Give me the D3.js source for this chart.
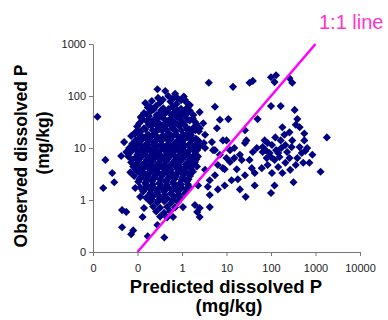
<!DOCTYPE html>
<html>
<head>
<meta charset="utf-8">
<script src="https://cdn.jsdelivr.net/npm/d3@7"></script>
<style>
  body { margin: 0; background: #fff; }
  svg { display: block; font-family: Arial, "Liberation Sans", sans-serif; }
</style>
</head>
<body>
<div id="chart"></div>
<script>
// tick values and the labels the original shows (it rounds 0.01 / 0.1 to "0")
const xTicks = [0.01, 0.1, 1, 10, 100, 1000, 10000];
const xTickLabels = ['0', '0', '1', '10', '100', '1000', '10000'];
const yTicks = [0.1, 1, 10, 100, 1000];
const yTickLabels = ['0', '1', '10', '100', '1000'];

// 1:1 reference line, from .. to
const oneToOne = [0.1, 1000];

// [predicted, observed] in mg/kg - scattered points
const sparsePoints = [
    [0.0126, 40], [0.019, 5.9], [0.017, 1.7], [0.027, 3.3], [0.030, 2.2], [0.050, 13], [0.043, 7],
    [0.045, 0.64], [0.056, 0.59], [0.045, 0.30], [0.072, 0.22], [0.080, 0.26], [0.13, 0.47], [0.14, 0.70],
    [0.28, 0.33], [0.17, 0.20], [0.40, 0.19], [0.089, 1.7], [0.115, 1.15], [0.056, 8.4], [0.28, 135],
    [0.15, 73], [0.19, 62], [0.12, 40], [0.089, 19],
    [4.0, 180], [14, 150], [39, 195], [33, 180], [100, 230], [130, 250], [120, 185], [260, 220], [300, 180],
    [5.5, 62], [11, 36], [50, 36], [1.8, 43], [1.95, 32], [3.0, 30], [6.1, 24], [4.7, 13], [8.3, 14],
    [26, 22], [28, 14], [48, 10], [65, 8.4], [15, 10], [3.3, 10], [5, 9.1], [1.3, 19],
    [100, 64], [165, 64], [340, 54], [390, 36], [180, 25], [440, 25], [360, 28], [1800, 16], [200, 18],
    [300, 14], [560, 14], [650, 10], [850, 7.4], [105, 11.4], [130, 9.1], [170, 10], [230, 8.4], [490, 8],
    [100, 6.7], [155, 6.7], [260, 6.4], [120, 5.9], [390, 6.4], [180, 3.3], [105, 3.3], [1300, 3.5],
    [120, 1.9], [320, 2.2], [100, 1.36], [27, 1.15],
    [9.1, 3.9], [17, 3.9], [13, 2.4], [37, 4.1], [43, 3.3], [65, 10.4], [39, 8.4], [22, 5.9], [15, 6.4],
    [10, 6.4], [26, 12.5], [10, 14], [6.4, 1.6], [3.8, 1.8], [4.2, 1.25], [2.3, 1.9], [2.5, 0.70],
    [2.2, 0.59], [2.5, 0.47], [4.2, 0.73], [1.05, 0.73], [0.63, 0.47], [1.95, 0.80], [8.3, 4.1], [18, 2.5],
    [12, 5.4], [62, 4.1], [80, 6.4],
    [76, 9.1], [84, 12.5], [93, 8], [145, 8], [210, 11.4], [290, 10.4], [440, 10.4], [590, 8.8], [360, 4.7],
    [210, 5.2], [145, 4.3], [84, 4.7], [530, 5.2], [730, 5.2], [270, 3.8], [72, 14], [165, 14], [125, 16],
    [260, 20], [560, 19],
    [2.5, 24], [3.3, 18], [2.3, 14], [7.1, 35], [1.5, 67], [1.17, 84], [2.5, 49], [5.5, 9.1], [7.1, 7.4],
    [12, 9.1], [20, 7.4], [33, 5.9], [6.4, 4.7], [26, 3.0], [43, 1.9], [20, 1.6], [9.1, 1.9], [5.5, 3.0],
    [3.3, 3.8], [4.2, 2.4]
];

// [predicted, observed] - the dense cloud around 0.1-2 predicted
const clusterPoints = [
    [0.42, 125], [0.70, 110],
    [0.29, 92], [0.49, 100], [0.80, 90], [1.1, 98],
    [0.21, 80], [0.32, 74], [0.55, 78], [0.75, 70], [1.25, 76],
    [0.17, 60], [0.26, 64], [0.38, 58], [0.61, 62], [0.95, 57], [1.4, 63],
    [0.14, 47], [0.20, 51], [0.31, 46], [0.46, 50], [0.66, 48], [1.05, 45], [1.5, 52],
    [0.12, 38], [0.18, 41], [0.25, 37], [0.36, 40], [0.54, 36], [0.77, 39], [1.17, 42], [1.75, 37],
    [0.11, 30], [0.16, 33], [0.22, 31], [0.32, 29], [0.46, 33], [0.70, 30], [1.05, 31], [1.5, 34], [2.1, 29],
    [0.098, 26], [0.14, 24], [0.20, 27], [0.29, 23], [0.42, 26], [0.6, 24], [0.86, 27], [1.3, 23], [1.85, 25],
    [0.084, 19], [0.12, 21], [0.17, 18], [0.25, 20], [0.36, 22], [0.51, 19], [0.73, 21], [1.05, 18],
    [1.6, 20], [2.4, 21],
    [0.072, 17], [0.104, 15], [0.15, 16], [0.21, 17], [0.31, 15], [0.44, 16], [0.63, 17], [0.9, 15],
    [1.36, 16], [2.06, 15],
    [0.076, 12], [0.115, 13.5], [0.165, 12.5], [0.236, 13], [0.34, 12], [0.49, 14], [0.7, 12.5], [0.99, 13],
    [1.5, 12], [2.3, 13.5], [3.1, 12.5],
    [0.065, 10], [0.094, 11], [0.134, 10.5], [0.19, 9.8], [0.276, 11], [0.40, 10], [0.57, 10.8], [0.81, 9.9],
    [1.17, 11], [1.76, 10.2], [2.5, 10.8],
    [0.069, 8.2], [0.098, 8.8], [0.141, 8], [0.20, 8.6], [0.29, 8.1], [0.42, 8.9], [0.6, 8.3], [0.86, 8.6],
    [1.29, 8], [1.95, 8.5],
    [0.062, 6.9], [0.089, 6.5], [0.127, 7], [0.183, 6.4], [0.262, 6.8], [0.376, 6.6], [0.54, 7], [0.77, 6.3],
    [1.11, 6.7], [1.59, 6.5], [2.28, 6.9],
    [0.072, 5.3], [0.104, 5.6], [0.149, 5.2], [0.213, 5.5], [0.306, 5.1], [0.44, 5.6], [0.63, 5.3], [0.9, 5.5],
    [1.36, 5.2], [1.95, 5.4],
    [0.080, 4.4], [0.115, 4.2], [0.165, 4.5], [0.236, 4.1], [0.339, 4.4], [0.486, 4.2], [0.697, 4.5],
    [0.95, 4.1], [1.51, 4.3], [2.17, 4.4],
    [0.069, 3.4], [0.098, 3.6], [0.141, 3.3], [0.202, 3.6], [0.29, 3.4], [0.417, 3.5], [0.597, 3.3],
    [0.857, 3.6], [1.23, 3.4], [1.76, 3.5],
    [0.084, 2.9], [0.121, 2.7], [0.173, 2.85], [0.249, 2.75], [0.357, 2.9], [0.512, 2.7], [0.734, 2.85],
    [1.05, 2.7], [1.51, 2.9],
    [0.104, 2.25], [0.149, 2.15], [0.213, 2.3], [0.306, 2.1], [0.439, 2.25], [0.629, 2.2], [0.902, 2.1], [1.29, 2.3],
    [0.115, 1.75], [0.165, 1.85], [0.236, 1.7], [0.339, 1.8], [0.486, 1.75], [0.697, 1.85], [1.0, 1.7], [1.43, 1.8],
    [0.134, 1.45], [0.192, 1.35], [0.276, 1.4], [0.396, 1.45], [0.567, 1.35], [0.814, 1.45], [1.17, 1.35],
    [0.157, 1.1], [0.224, 1.18], [0.322, 1.12], [0.462, 1.08], [0.662, 1.16], [0.95, 1.1],
    [0.192, 0.94], [0.276, 0.9], [0.396, 0.95], [0.567, 0.88], [0.814, 0.92],
    [0.224, 0.75], [0.322, 0.71], [0.462, 0.74], [0.697, 0.72],
    [0.262, 0.6], [0.396, 0.57], [0.539, 0.61],
    [0.322, 0.48], [0.462, 0.46]
];

// more samples filling the gaps of the cloud
const clusterFill = [
    [0.37, 85], [0.62, 88], [0.95, 83],
    [0.23, 55], [0.34, 53], [0.5, 56], [0.78, 54], [1.2, 55],
    [0.16, 44], [0.27, 43], [0.4, 45], [0.58, 43], [0.9, 44], [1.3, 46],
    [0.13, 35], [0.19, 34], [0.28, 36], [0.41, 35], [0.6, 34], [0.92, 36], [1.35, 35],
    [0.1, 22], [0.15, 23], [0.22, 22], [0.32, 23], [0.45, 22], [0.66, 23], [0.97, 22], [1.45, 23], [2.0, 22],
    [0.09, 14], [0.13, 15], [0.18, 14.5], [0.26, 14], [0.38, 15], [0.55, 14.5], [0.8, 14], [1.15, 15], [1.7, 14.5],
    [0.08, 9.5], [0.115, 9.2], [0.165, 9.6], [0.24, 9.3], [0.35, 9.5], [0.5, 9.2], [0.72, 9.6], [1.05, 9.3],
    [1.55, 9.5], [2.2, 9.2],
    [0.075, 6], [0.11, 6.2], [0.16, 5.9], [0.23, 6.1], [0.33, 5.9], [0.48, 6.2], [0.7, 5.9], [1.0, 6.1],
    [1.45, 5.9], [2.1, 6.1],
    [0.09, 3.9], [0.13, 4.0], [0.19, 3.8], [0.27, 3.9], [0.39, 4.0], [0.56, 3.8], [0.8, 3.9], [1.15, 4.0], [1.65, 3.8],
    [0.11, 2.5], [0.16, 2.45], [0.23, 2.55], [0.33, 2.45], [0.47, 2.5], [0.68, 2.55], [0.98, 2.45], [1.4, 2.5],
    [0.14, 1.6], [0.2, 1.55], [0.29, 1.6], [0.42, 1.65], [0.6, 1.55], [0.87, 1.6], [1.25, 1.62],
    [0.21, 1.02], [0.3, 1.0], [0.43, 1.04], [0.62, 1.0], [0.88, 1.03]
];

// the solid core of the cloud
const clusterCore = [
    [0.18, 28], [0.26, 28], [0.38, 27.5], [0.55, 28], [0.8, 28.5], [1.15, 27.5],
    [0.12, 17.5], [0.18, 17.8], [0.26, 17.3], [0.37, 17.6], [0.53, 17.4], [0.76, 17.7], [1.1, 17.4], [1.6, 17.6],
    [0.11, 11.8], [0.16, 11.5], [0.23, 11.7], [0.33, 11.4], [0.47, 11.6], [0.68, 11.5], [0.98, 11.7],
    [1.4, 11.4], [2.0, 11.6],
    [0.1, 7.5], [0.15, 7.6], [0.22, 7.4], [0.31, 7.6], [0.45, 7.5], [0.65, 7.4], [0.93, 7.6], [1.35, 7.5], [1.9, 7.4],
    [0.095, 4.8], [0.135, 4.9], [0.195, 4.7], [0.28, 4.85], [0.4, 4.75], [0.58, 4.9], [0.83, 4.7],
    [1.2, 4.85], [1.75, 4.8],
    [0.12, 3.1], [0.17, 3.15], [0.245, 3.05], [0.35, 3.1], [0.5, 3.15], [0.72, 3.05], [1.05, 3.1], [1.5, 3.15],
    [0.155, 2.0], [0.22, 1.98], [0.32, 2.02], [0.46, 1.97], [0.66, 2.02], [0.95, 1.98], [1.35, 2.0],
    [0.2, 1.27], [0.29, 1.25], [0.41, 1.28], [0.6, 1.25], [0.85, 1.27]
];

const width = 388,
    height = 320,
    plot = { left: 93, right: 360, top: 44, bottom: 252 };

const svg = d3.select('#chart')
    .append('svg')
    .attr('width', width)
    .attr('height', height);

const x = d3.scaleLog()
    .domain([0.01, 10000])
    .range([plot.left, plot.right]);

const y = d3.scaleLog()
    .domain([0.1, 1000])
    .range([plot.bottom, plot.top]);

const axisColor = '#777';

const xAxis = svg.append('g')
    .attr('transform', `translate(0,${plot.bottom})`)
    .call(d3.axisBottom(x)
        .tickValues(xTicks)
        .tickFormat((d, i) => xTickLabels[i])
        .tickSize(4)
        .tickSizeOuter(0)
        .tickPadding(8));

const yAxis = svg.append('g')
    .attr('transform', `translate(${plot.left},0)`)
    .call(d3.axisLeft(y)
        .tickValues(yTicks)
        .tickFormat((d, i) => yTickLabels[i])
        .tickSize(4)
        .tickSizeOuter(0)
        .tickPadding(3));

[xAxis, yAxis].forEach(g => {
    g.select('.domain').attr('stroke', axisColor);
    g.selectAll('.tick line').attr('stroke', axisColor);
    g.selectAll('.tick text')
        .attr('fill', '#222')
        .style('font-size', '11px')
        .style('font-family', 'Arial, "Liberation Sans", sans-serif');
});

// diamonds
const diamond = d3.symbol().type(d3.symbolSquare).size(33);

svg.append('g')
    .selectAll('path')
    .data(clusterPoints.concat(clusterFill, clusterCore, sparsePoints))
    .enter().append('path')
    .attr('d', diamond)
    .attr('transform', d => `translate(${x(d[0])},${y(d[1])}) rotate(45)`)
    .attr('fill', '#000080');

// 1:1 line on top of the points
svg.append('line')
    .attr('x1', x(oneToOne[0]))
    .attr('y1', y(oneToOne[0]))
    .attr('x2', x(oneToOne[1]))
    .attr('y2', y(oneToOne[1]))
    .attr('stroke', '#ff00ff')
    .attr('stroke-width', 2.5);

svg.append('text')
    .attr('x', 319)
    .attr('y', 29)
    .attr('fill', '#ff33cc')
    .style('font-size', '20px')
    .text('1:1 line');

// axis titles
const titleX = svg.append('g')
    .attr('font-weight', 'bold')
    .attr('text-anchor', 'middle')
    .attr('fill', '#000');

titleX.append('text')
    .attr('x', 226)
    .attr('y', 293)
    .style('font-size', '18.5px')
    .text('Predicted dissolved P');

titleX.append('text')
    .attr('x', 229)
    .attr('y', 312)
    .style('font-size', '18.5px')
    .text('(mg/kg)');

const titleY = svg.append('g')
    .attr('font-weight', 'bold')
    .attr('text-anchor', 'middle')
    .attr('fill', '#000');

titleY.append('text')
    .attr('transform', 'translate(27,156) rotate(-90)')
    .style('font-size', '17.5px')
    .text('Observed dissolved P');

titleY.append('text')
    .attr('transform', 'translate(49,143) rotate(-90)')
    .style('font-size', '17.5px')
    .text('(mg/kg)');
</script>
</body>
</html>
